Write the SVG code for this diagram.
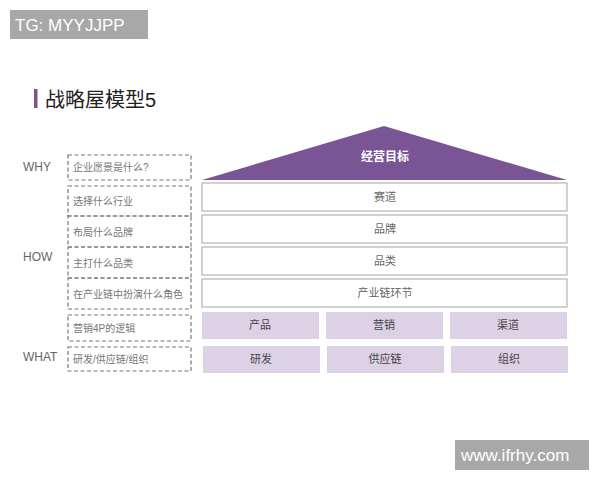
<svg xmlns="http://www.w3.org/2000/svg" width="600" height="480" viewBox="0 0 600 480">
<style>
text{font-family:"Liberation Sans","Noto Sans CJK SC",sans-serif}
.wm{fill:#a8a8a8}
.wmt{fill:#fff;font-size:17px}
.lbl{fill:#666;font-size:12px}
.dash{fill:none;stroke:#777;stroke-width:1.2;stroke-dasharray:4 2.5}
.dt{fill:#777;font-size:10px}
.wb{fill:#fff;stroke:#b4b4b4;stroke-width:1.2}
.pb{fill:#ddd1e6}
.ct{fill:#666;font-size:11px;text-anchor:middle}
.pt{fill:#444;font-size:11px;text-anchor:middle}
</style>
<rect width="600" height="480" fill="#fff"/>
<g id="wm1"><rect class="wm" x="10" y="10" width="138" height="29"/><text class="wmt" x="15" y="31">TG: MYYJJPP</text></g>
<g id="title"><rect x="34" y="89" width="3.5" height="19" fill="#7a5595"/><text x="45" y="107" font-size="20" fill="#222">战略屋模型5</text></g>
<g id="labels">
<text class="lbl" x="23" y="171">WHY</text>
<text class="lbl" x="23" y="261">HOW</text>
<text class="lbl" x="23" y="361">WHAT</text>
</g>
<g id="left">
<g id="l1"><rect class="dash" x="68" y="155" width="123" height="25"/><text class="dt" x="73" y="171">企业愿景是什么?</text></g>
<g id="l2"><rect class="dash" x="68" y="186" width="123" height="30"/><text class="dt" x="73" y="205">选择什么行业</text></g>
<g id="l3"><rect class="dash" x="68" y="216" width="123" height="31"/><text class="dt" x="73" y="236">布局什么品牌</text></g>
<g id="l4"><rect class="dash" x="68" y="247" width="123" height="31"/><text class="dt" x="73" y="267">主打什么品类</text></g>
<g id="l5"><rect class="dash" x="68" y="278" width="123" height="31"/><text class="dt" x="73" y="298">在产业链中扮演什么角色</text></g>
<g id="l6"><rect class="dash" x="68" y="315" width="123" height="26"/><text class="dt" x="73" y="332">营销4P的逻辑</text></g>
<g id="l7"><rect class="dash" x="68" y="347" width="123" height="24"/><text class="dt" x="73" y="363">研发/供应链/组织</text></g>
</g>
<g id="roof"><polygon points="384,126 202,180 567,180" fill="#7a5595"/><text x="385" y="161" font-size="12" font-weight="bold" fill="#fff" text-anchor="middle">经营目标</text></g>
<g id="r1"><rect class="wb" x="202" y="183" width="365" height="28"/><text class="ct" x="385" y="201">赛道</text></g>
<g id="r2"><rect class="wb" x="202" y="215" width="365" height="28"/><text class="ct" x="385" y="233">品牌</text></g>
<g id="r3"><rect class="wb" x="202" y="247" width="365" height="28"/><text class="ct" x="385" y="265">品类</text></g>
<g id="r4"><rect class="wb" x="202" y="279" width="365" height="28"/><text class="ct" x="385" y="297">产业链环节</text></g>
<g id="p1"><rect class="pb" x="202" y="312" width="117" height="27"/><text class="pt" x="260" y="329">产品</text></g>
<g id="p2"><rect class="pb" x="326" y="312" width="117" height="27"/><text class="pt" x="384" y="329">营销</text></g>
<g id="p3"><rect class="pb" x="450" y="312" width="117" height="27"/><text class="pt" x="508" y="329">渠道</text></g>
<g id="p4"><rect class="pb" x="203" y="346" width="117" height="27"/><text class="pt" x="261" y="363">研发</text></g>
<g id="p5"><rect class="pb" x="327" y="346" width="117" height="27"/><text class="pt" x="385" y="363">供应链</text></g>
<g id="p6"><rect class="pb" x="451" y="346" width="117" height="27"/><text class="pt" x="509" y="363">组织</text></g>
<g id="connectors"></g>
<g id="wm2"><rect class="wm" x="455" y="440" width="134" height="30"/><text class="wmt" x="461" y="461">www.ifrhy.com</text></g>
</svg>
